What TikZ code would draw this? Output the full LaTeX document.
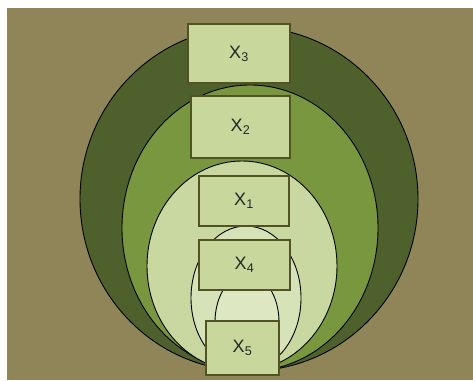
\documentclass[tikz,border=0pt]{standalone}
\usepackage{fontspec}
\setmainfont{Liberation Sans}
\usepackage{xcolor}
\usepackage{tikz}
\usetikzlibrary{positioning}
\definecolor{olivebg}{RGB}{143,133,88}
\definecolor{darkleaf}{RGB}{78,97,44}
\definecolor{midleaf}{RGB}{121,151,62}
\definecolor{paleleaf}{RGB}{201,216,160}
\definecolor{paleleafb}{RGB}{214,226,184}
\definecolor{paleleafc}{RGB}{221,231,193}
\definecolor{boxfill}{RGB}{200,216,156}
\definecolor{boxline}{RGB}{82,82,36}

\begin{document}
\begin{tikzpicture}[x=1pt, y=-1pt,
    every node/.style={font=\fontsize{18}{20}\selectfont, text=black!85},
    setbox/.style={draw=boxline, line width=1.4pt, fill=boxfill, inner sep=0pt}]
  \useasboundingbox (0,0) rectangle (473,380);
  % Background
  \fill[olivebg] (7,8) rectangle (473,380);

  % Nested sets
  \draw[fill=darkleaf, line width=0.9pt] (249,199) ellipse [x radius=169pt, y radius=172pt];
  \draw[fill=midleaf, line width=0.9pt] (250,228) ellipse [x radius=128pt, y radius=143pt];
  \draw[fill=paleleaf, line width=0.9pt] (242,266) ellipse [x radius=95pt, y radius=105pt];
  \draw[fill=paleleafb, line width=0.9pt] (246,298) ellipse [x radius=55pt, y radius=72pt];
  \draw[fill=paleleafc, line width=0.9pt] (247,322) ellipse [x radius=32pt, y radius=48pt];

  % Labels
  \node[setbox, minimum width=102pt, minimum height=59pt] (x3) at (239,53.5) {X\textsubscript{3}};
  \node[setbox, minimum width=99pt, minimum height=62pt] (x2) at (240.5,127) {X\textsubscript{2}};
  \node[setbox, minimum width=90pt, minimum height=50pt] (x1) at (244,201) {X\textsubscript{1}};
  \node[setbox, minimum width=91pt, minimum height=50pt] (x4) at (244.5,265) {X\textsubscript{4}};
  \node[setbox, minimum width=73pt, minimum height=54pt] (x5) at (242.5,348) {X\textsubscript{5}};

\end{tikzpicture}
\end{document}
